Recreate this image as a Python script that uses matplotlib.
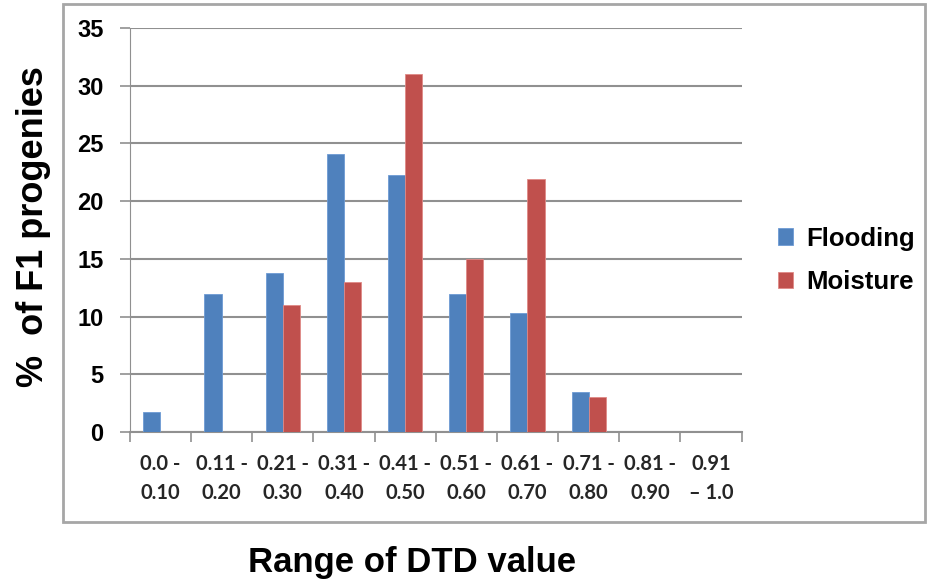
import matplotlib.pyplot as plt
import numpy as np
from matplotlib.patches import Rectangle

# DTD range categories and % of F1 progenies
ranges = ["0.0 -\n0.10", "0.11 -\n0.20", "0.21 -\n0.30", "0.31 -\n0.40", "0.41 -\n0.50",
          "0.51 -\n0.60", "0.61 -\n0.70", "0.71 -\n0.80", "0.81 -\n0.90", "0.91\n\u2013 1.0"]
flooding = [1.7, 12.0, 13.8, 24.1, 22.3, 12.0, 10.3, 3.5, 0, 0]
moisture = [0, 0, 11.0, 13.0, 31.0, 15.0, 21.9, 3.0, 0, 0]

blue = "#4F81BD"
red = "#C0504D"
grid_col = "#909090"

fig = plt.figure(figsize=(9.27, 5.85), dpi=100)
ax = fig.add_axes([0.140, 0.2615, 0.660, 0.6906])

# outer chart-area frame
fig.patches.append(Rectangle((0.068, 0.108), 0.93, 0.885, transform=fig.transFigure,
                             fill=False, edgecolor="#a6a6a6", linewidth=2))

x = np.arange(len(ranges))
w = 0.28
ax.bar(x - w / 2, flooding, w, color=blue, edgecolor="#6d9bd4", linewidth=0.6, label="Flooding", zorder=3)
ax.bar(x + w / 2, moisture, w, color=red, edgecolor="#e08a86", linewidth=0.6, label="Moisture", zorder=3)

ax.set_xlim(-0.5, len(ranges) - 0.5)
ax.set_ylim(0, 35)
ax.set_yticks(np.arange(0, 36, 5))
ax.yaxis.grid(True, color=grid_col, linewidth=1.5)
ax.set_axisbelow(True)

# boundary tick marks, labels centred on categories
ax.set_xticks(np.arange(-0.5, len(ranges)), labels=[""] * (len(ranges) + 1))
ax.set_xticks(x, labels=ranges, minor=True)
ax.tick_params(axis="x", which="major", direction="out", length=7, width=1.2, color=grid_col)
ax.tick_params(axis="x", which="minor", length=0, pad=16)
ax.tick_params(axis="y", direction="out", length=7, width=1.2, color=grid_col, pad=12)

for lab in ax.get_xticklabels(minor=True):
    lab.set_fontsize(14.5)
    lab.set_family("Lato")
    lab.set_fontweight("bold")
    lab.set_color("#262626")
    lab.set_linespacing(1.55)
for lab in ax.get_yticklabels():
    lab.set_fontsize(17)
    lab.set_fontweight("bold")
    lab.set_family("Liberation Sans")

for s in ["top", "right"]:
    ax.spines[s].set_visible(False)
ax.spines["left"].set_color(grid_col)
ax.spines["bottom"].set_color(grid_col)
ax.spines["bottom"].set_linewidth(1.5)

fig.text(0.036, 0.612, "%  of F1 progenies", rotation=90, ha="center", va="center",
         fontsize=26, fontweight="bold", family="Liberation Sans")
fig.text(0.444, 0.038, "Range of DTD value", ha="center", va="center",
         fontsize=25, fontweight="bold", family="Liberation Sans")

fig.legend(loc="center left", bbox_to_anchor=(0.814, 0.555), frameon=False,
           prop={"family": "Liberation Sans", "weight": "bold", "size": 18.5},
           handlelength=0.6, handleheight=0.6, handletextpad=0.5, labelspacing=0.75)

fig.savefig("out.png", dpi=100)
